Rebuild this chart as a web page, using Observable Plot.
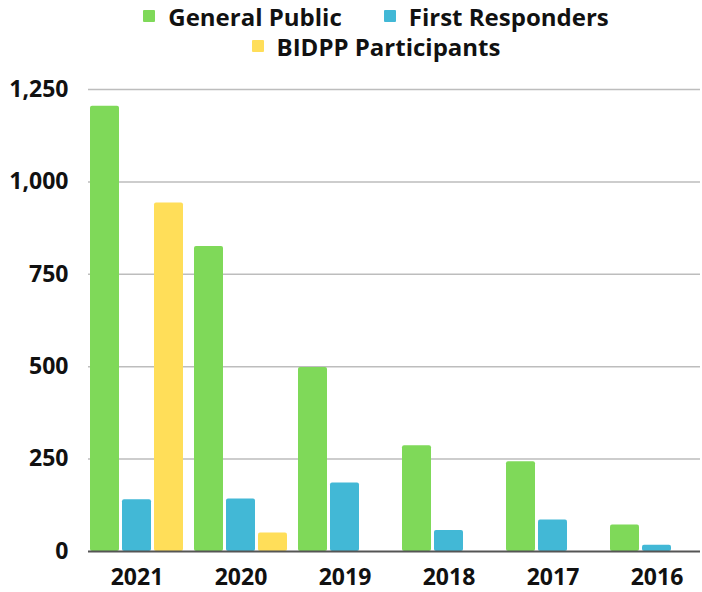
<!DOCTYPE html>
<html><head><meta charset="utf-8">
<script src="https://cdn.jsdelivr.net/npm/d3@7"></script>
<script src="https://cdn.jsdelivr.net/npm/@observablehq/plot@0.6"></script>
<style>
body{margin:0;background:#fff;font-family:"Open Sans",sans-serif;}
#legend{height:65px;box-sizing:border-box;padding-top:1px;padding-left:50px;}
.row{display:flex;justify-content:center;gap:42px;height:30px;align-items:center;}
.item{display:flex;align-items:center;font-weight:700;font-size:24px;color:#111;}
.sw{width:12px;height:12px;margin-right:13px;border-radius:1px;}
#chart{position:relative;width:702px;height:527px;}
#chart svg{position:absolute;left:0;top:0;}
</style></head><body>
<div id="legend"></div><div id="chart"></div>
<script>
const years = ["2021","2020","2019","2018","2017","2016"];
const series = ["General Public","First Responders","BIDPP Participants"];
const colors = ["#7FD959","#42B8D6","#FFDE59"];
const generalPublic = [1205, 825, 498, 286, 243, 72];
const firstResponders = [140, 142, 185, 57, 85, 17];
const bidppParticipants = [943, 50, 0, 0, 0, 0];
const yTicks = [0, 250, 500, 750, 1000, 1250];

const valuesBySeries = [generalPublic, firstResponders, bidppParticipants];
const data = [];
years.forEach((yr, i) => series.forEach((s, j) => {
  const v = valuesBySeries[j][i];
  if (v > 0) data.push({year: yr, series: s, value: v});
}));

// legend
const legendEl = document.getElementById("legend");
[[0,1],[2]].forEach(idx => {
  const row = document.createElement("div"); row.className = "row";
  idx.forEach(j => {
    const it = document.createElement("div"); it.className = "item";
    const sw = document.createElement("span"); sw.className = "sw"; sw.style.background = colors[j];
    it.appendChild(sw); it.appendChild(document.createTextNode(series[j]));
    row.appendChild(it);
  });
  legendEl.appendChild(row);
});

const common = {
  width: 702, height: 527,
  marginLeft: 88, marginRight: 2, marginTop: 24, marginBottom: 41,
  style: {fontFamily: "'Open Sans', sans-serif", fontSize: "23px", fontWeight: 700, color: "#111", background: "transparent"}
};
const fmt = d3.format(",d");
const yScale = {domain: [0, 1250], ticks: yTicks, tickFormat: d => fmt(d), label: null, tickSize: 0, tickPadding: 20};

// background layer: y axis and gridlines spanning the whole frame
const baseLayer = Plot.plot({
  ...common,
  y: yScale,
  marks: [
    Plot.ruleY(yTicks.slice(1), {stroke: "#bdbdbd", strokeWidth: 1.5})
  ]
});

// bars layer: grouped by year with facets
const barLayer = Plot.plot({
  ...common,
  marginRight: -3,
  fx: {domain: years, paddingInner: 0.09, paddingOuter: 0, label: null, tickSize: 0, tickPadding: 17, axis: "bottom"},
  x: {domain: series, paddingInner: 0.08, paddingOuter: 0, axis: null},
  y: {...yScale, axis: null},
  color: {domain: series, range: colors},
  marks: [
    Plot.barY(data, {fx: "year", x: "series", y: "value", fill: "series", rx: 2})
  ]
});

// baseline on top
const baselineLayer = Plot.plot({
  ...common,
  y: {...yScale, axis: null},
  marks: [Plot.ruleY([0], {stroke: "#555", strokeWidth: 2})]
});

const chartEl = document.getElementById("chart");
chartEl.appendChild(baseLayer); chartEl.appendChild(barLayer); chartEl.appendChild(baselineLayer);
</script>
</body></html>
